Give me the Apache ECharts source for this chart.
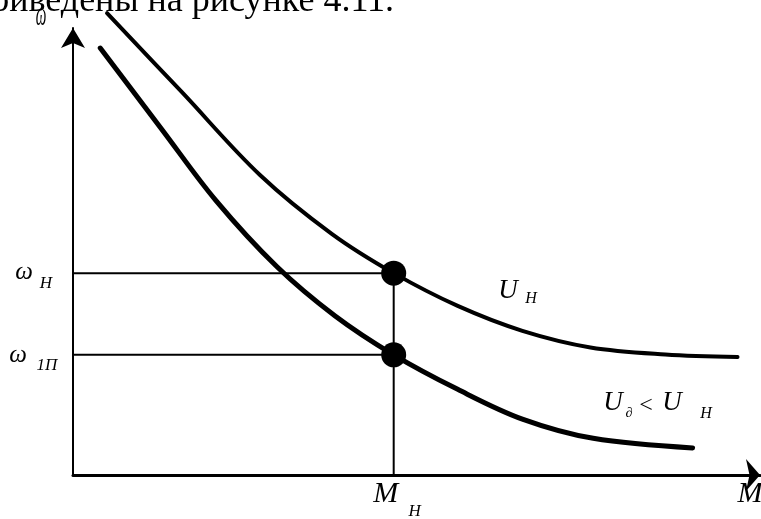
<!DOCTYPE html>
<html>
<head>
<meta charset="utf-8">
<script src="https://cdn.jsdelivr.net/npm/echarts@6/dist/echarts.min.js"></script>
<style>
  html, body { margin: 0; background: #fff; }
  #chart { width: 761px; height: 519px; }
</style>
</head>
<body>
<div id="chart"></div>
<script>
// speed-torque curves (M on x, omega on y, arbitrary units)
const curveNominal = [
  [5.0, 105.7], [16.0, 87.6], [27.5, 68.6], [38.0, 55.2], [47.1, 46.2],
  [56.5, 38.7], [66.0, 33.0], [76.0, 29.2], [87.0, 27.6], [97.6, 27.0]
];
const curveReduced = [
  [4.0, 97.7], [13.0, 79.2], [21.0, 62.8], [30.0, 47.6], [38.5, 36.4],
  [47.1, 27.5], [56.5, 19.6], [66.0, 12.8], [76.4, 8.4], [91.0, 6.2]
];
const ratedTorque = 47.1;
const ratedSpeed = 46.2;
const reducedSpeed = 27.5;

const serif = '"Liberation Serif", "DejaVu Serif", serif';

const chart = echarts.init(document.getElementById('chart'));

function guide(points) {
  return {
    type: 'line',
    data: points,
    symbol: 'none',
    silent: true,
    lineStyle: { color: '#000', width: 2 },
    z: 1
  };
}

function axisStyle(max, width, arrow) {
  return {
    type: 'value',
    min: 0,
    max: max,
    splitLine: { show: false },
    axisTick: { show: false },
    axisLabel: { show: false },
    axisLine: {
      show: true,
      symbol: ['none', 'arrow'],
      symbolSize: arrow,
      lineStyle: { color: '#000', width: width }
    }
  };
}

chart.setOption({
  animation: false,
  backgroundColor: '#fff',
  grid: { left: 73, right: 1, top: 28, bottom: 44 },
  xAxis: axisStyle(100.9, 3, [24, 14]),
  yAxis: axisStyle(102.3, 2, [18, 20]),
  series: [
    guide([[0, ratedSpeed], [ratedTorque, ratedSpeed]]),
    guide([[0, reducedSpeed], [ratedTorque, reducedSpeed]]),
    guide([[ratedTorque, 0], [ratedTorque, ratedSpeed]]),
    {
      type: 'line',
      data: curveNominal,
      smooth: 0.35,
      symbol: 'none',
      clip: false,
      lineStyle: { color: '#000', width: 4, cap: 'round' },
      z: 2
    },
    {
      type: 'line',
      data: curveReduced,
      smooth: 0.35,
      symbol: 'none',
      clip: false,
      lineStyle: { color: '#000', width: 5, cap: 'round' },
      z: 2
    },
    {
      type: 'scatter',
      data: [[ratedTorque, ratedSpeed], [ratedTorque, reducedSpeed]],
      symbolSize: 25,
      itemStyle: { color: '#000', opacity: 1 },
      z: 3
    }
  ]
});

// labels placed relative to the axis values
const [ox, oy] = chart.convertToPixel({ gridIndex: 0 }, [0, 0]);
const [mx, yH] = chart.convertToPixel({ gridIndex: 0 }, [ratedTorque, ratedSpeed]);
const y1 = chart.convertToPixel({ gridIndex: 0 }, [ratedTorque, reducedSpeed])[1];

function label(text, x, y, size, italic, extra) {
  return Object.assign({
    type: 'text',
    x: x,
    y: y,
    silent: true,
    style: {
      text: text,
      font: (italic ? 'italic ' : '') + size + 'px ' + serif,
      fill: '#000',
      align: 'center',
      verticalAlign: 'middle'
    }
  }, extra || {});
}

chart.setOption({
  graphic: [
    label('приведены на рисунке 4.11.', -28, 2, 36, false,
      { style: { text: 'приведены на рисунке 4.11.', font: '36px ' + serif, fill: '#000', align: 'left', verticalAlign: 'middle' } }),
    label('ω', 41, 17, 20, true, { scaleX: 0.75, scaleY: 1.6 }),
    label('ω', ox - 49, yH - 1, 25, true),
    label('H', ox - 27, yH + 10, 17, true),
    label('ω', ox - 55, y1 + 1, 25, true),
    label('1П', ox - 26, y1 + 11, 17, true),
    label('M', mx - 8, oy + 19, 30, true),
    label('H', mx + 21, oy + 37, 17, true),
    label('M', 750, oy + 19, 30, true),
    label('U', 508, 291, 27, true),
    label('H', 531, 299, 16, true),
    label('U', 613, 403, 27, true),
    label('∂', 629, 413, 14, true),
    label('<', 646, 406, 24, false),
    label('U', 672, 403, 27, true),
    label('H', 706, 414, 16, true)
  ]
});
</script>
</body>
</html>
